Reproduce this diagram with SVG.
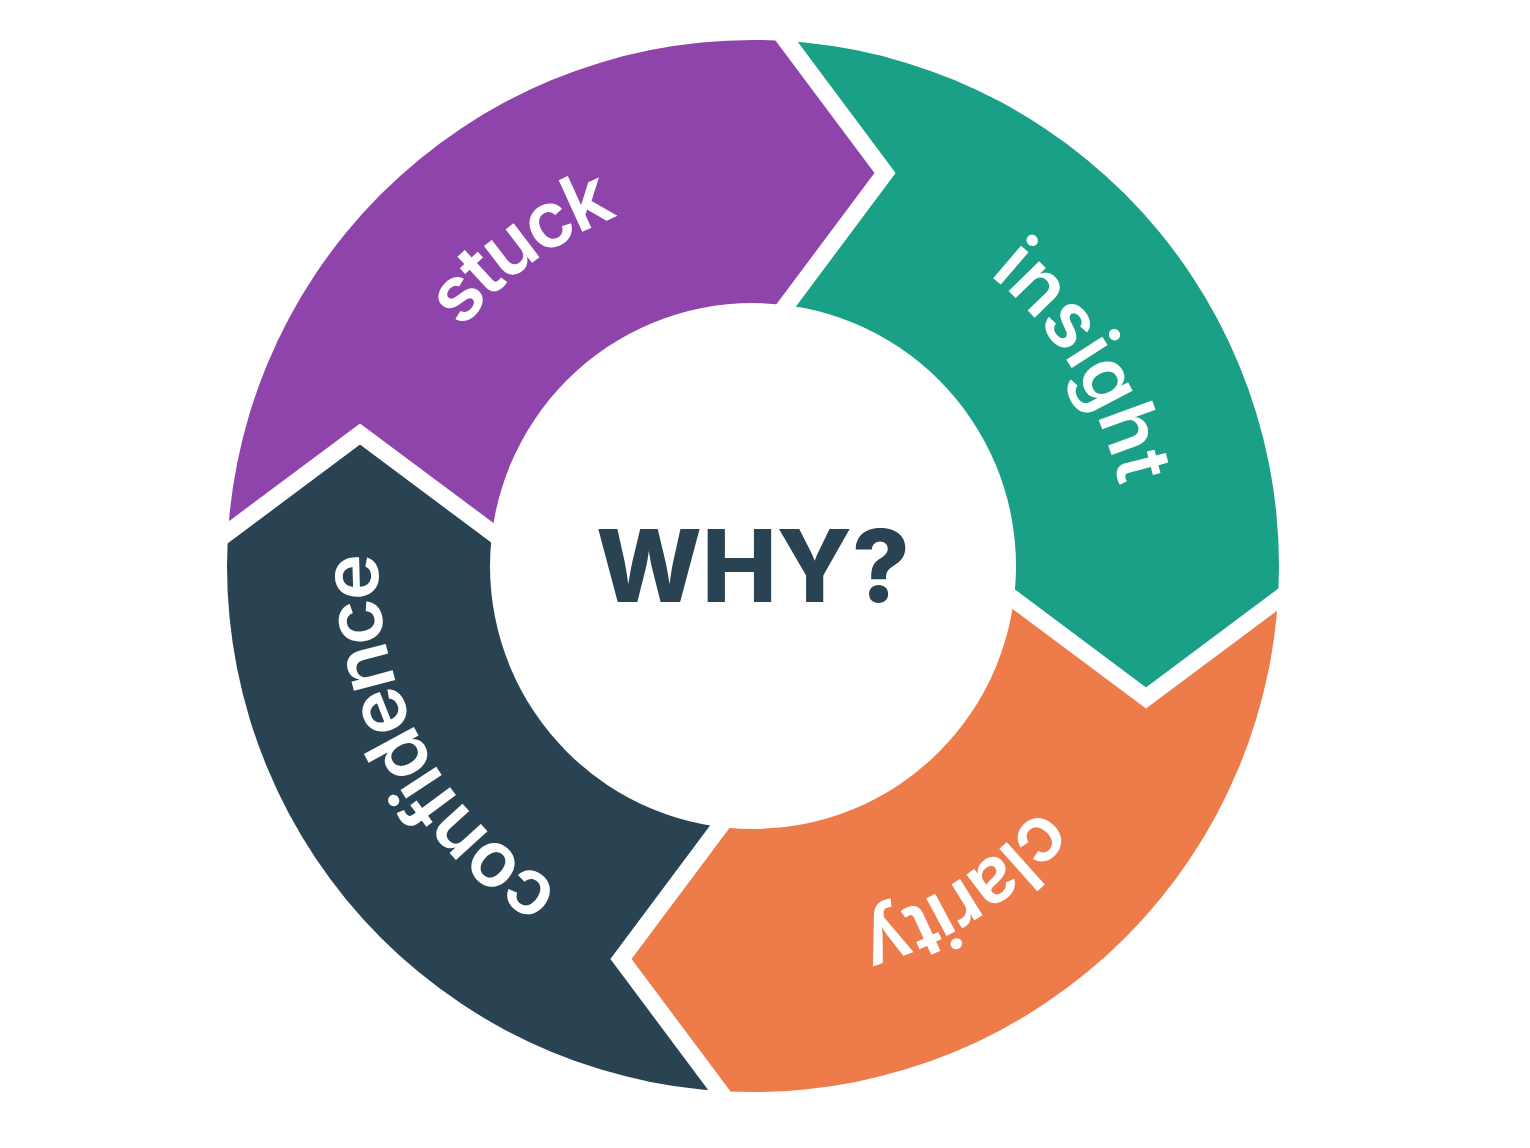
<svg xmlns="http://www.w3.org/2000/svg" width="1530" height="1148" viewBox="0 0 1530 1148">
<defs>
<style>
.lbl{font-family:Inter,"Liberation Sans",sans-serif;font-weight:600;font-size:78px;fill:#ffffff;}
.why{font-family:Inter,"Liberation Sans",sans-serif;font-weight:800;font-size:100px;fill:#2A4352;}
.gap{fill:none;stroke:#ffffff;stroke-width:17;stroke-linejoin:miter;}
</style>
<clipPath id="outer"><circle cx="753" cy="566" r="526"/></clipPath>
<polygon id="seg" points="0,0 -1,-214.8 132,-393 -1,-571.2 -1,-900 -900,-900 -900,1 -571.2,1 -393,-132 -214.8,1"/>
<polyline id="chev" points="-1,-571.2 132,-393 -1,-214.8"/>
<path id="ring" d="M 753,191 A 375,375 0 1 1 753,941 A 375,375 0 1 1 753,191"/>
</defs>
<rect width="1530" height="1148" fill="#ffffff"/>
<g clip-path="url(#outer)">
  <g transform="translate(753,566)">
    <g id="stuck-shape"><use href="#seg" fill="#8E44AA"/></g>
    <g id="insight-shape"><use href="#seg" fill="#1AA087" transform="rotate(90)"/></g>
    <g id="clarity-shape"><use href="#seg" fill="#ED7C4A" transform="rotate(180)"/></g>
    <g id="confidence-shape"><use href="#seg" fill="#2A4352" transform="rotate(270)"/></g>
  </g>
</g>
<g id="connectors" transform="translate(753,566)">
  <use href="#chev" class="gap"/>
  <use href="#chev" class="gap" transform="rotate(90)"/>
  <use href="#chev" class="gap" transform="rotate(180)"/>
  <use href="#chev" class="gap" transform="rotate(270)"/>
</g>
<circle cx="753" cy="566" r="263" fill="#ffffff"/>
<g id="stuck"><text class="lbl" textLength="195" lengthAdjust="spacing"><textPath href="#ring" startOffset="90%" text-anchor="middle">stuck</textPath></text></g>
<g id="insight"><text class="lbl" textLength="253" lengthAdjust="spacing"><textPath href="#ring" startOffset="16.22%" text-anchor="middle">insight</textPath></text></g>
<g id="clarity"><text class="lbl" textLength="221" lengthAdjust="spacing"><textPath href="#ring" startOffset="40.83%" text-anchor="middle">clarity</textPath></text></g>
<g id="confidence"><text class="lbl" textLength="399" lengthAdjust="spacing"><textPath href="#ring" startOffset="67.06%" text-anchor="middle">confidence</textPath></text></g>
<g id="why"><text class="why" x="753" y="602" text-anchor="middle">WHY?</text></g>
</svg>
